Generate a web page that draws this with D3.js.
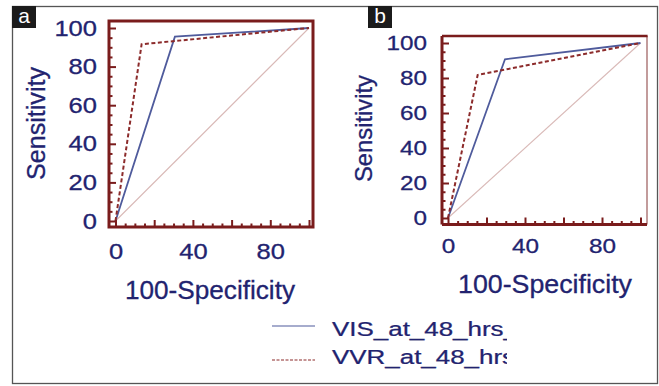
<!DOCTYPE html>
<html>
<head>
<meta charset="utf-8">
<script src="https://cdn.jsdelivr.net/npm/d3@7"></script>
<style>
  html, body { margin: 0; padding: 0; background: #fff; }
  svg { display: block; }
  text { font-family: "Liberation Sans", Arial, sans-serif; }
</style>
</head>
<body>
<svg id="chart" width="659" height="386"></svg>
<script>
// ---- data ----
const panelLabels = ["a", "b"];
const xTicks = [0, 40, 80];
const yTicks = [0, 20, 40, 60, 80, 100];
const seriesNames = ["VIS_at_48_hrs_", "VVR_at_48_hrs"];
const visA = [[0, 0], [30.7, 95.5], [100, 100]];
const vvrA = [[0, 0], [13.5, 91.6], [100, 100]];
const visB = [[0, 0], [29.6, 90.7], [100, 100]];
const vvrB = [[0, 0], [15.4, 81.7], [100, 100]];
const diagonal = [[0, 0], [100, 100]];

const navy = "#22236f";
const frameCol = "#7a1c1c";
const blue = "#4f5b9c";
const red = "#8c2b2b";
const diagCol = "#d9b9b7";

const svg = d3.select("#chart");

// outer figure border
svg.append("rect").attr("x", 12.5).attr("y", 6.5).attr("width", 645).attr("height", 377)
  .attr("fill", "none").attr("stroke", "#555").attr("stroke-width", 1.3);

const panels = [
  { label: "a", box: [12, 6, 24, 22], frame: { l: 109, t: 21, r: 313, b: 227 },
    xr: [115.5, 309], yr: [221, 28], vis: visA, vvr: vvrA,
    yPad: 12, xPad: 16, digitW: 14.2, tickFont: 22,
    xTitle: { x: 125, y: 299, len: 170, size: 26 },
    yTitle: { x: 45, y: 123.5, len: 113, size: 25 }, thinRight: false },
  { label: "b", box: [368, 6, 24, 22], frame: { l: 442, t: 36, r: 647, b: 224.5 },
    xr: [448, 640.5], yr: [218, 43], vis: visB, vvr: vvrB,
    yPad: 15, xPad: 13.5, digitW: 13.5, tickFont: 21,
    xTitle: { x: 458, y: 293, len: 174, size: 26 },
    yTitle: { x: 372, y: 128.5, len: 107, size: 24 }, thinRight: true }
];

panels.forEach((p, i) => {
  const g = svg.append("g");
  const x = d3.scaleLinear().domain([0, 100]).range(p.xr);
  const y = d3.scaleLinear().domain([0, 100]).range(p.yr);
  const f = p.frame;

  // panel label box
  g.append("rect").attr("x", p.box[0]).attr("y", p.box[1]).attr("width", p.box[2]).attr("height", p.box[3])
    .attr("fill", "#1b1b1b");
  g.append("text").attr("x", p.box[0] + p.box[2] / 2).attr("y", p.box[1] + 17)
    .attr("text-anchor", "middle").attr("fill", "#fff").attr("font-size", 21)
    .text(panelLabels[i]);

  // curves
  const line = d3.line().x(d => x(d[0])).y(d => y(d[1]));
  g.append("path").datum(diagonal).attr("d", line).attr("fill", "none")
    .attr("stroke", diagCol).attr("stroke-width", 1.1);
  g.append("path").datum(p.vis).attr("d", line).attr("fill", "none")
    .attr("stroke", blue).attr("stroke-width", 1.8);
  g.append("path").datum(p.vvr).attr("d", line).attr("fill", "none")
    .attr("stroke", red).attr("stroke-width", 2).attr("stroke-dasharray", "4,2.5");

  // frame
  if (p.thinRight) {
    g.append("line").attr("x1", f.r).attr("x2", f.r).attr("y1", f.t).attr("y2", f.b)
      .attr("stroke", "#9a5a5a").attr("stroke-width", 1.2);
    g.append("line").attr("x1", f.l).attr("x2", f.r + 0.6).attr("y1", f.t).attr("y2", f.t)
      .attr("stroke", frameCol).attr("stroke-width", 2.6);
    g.append("line").attr("x1", f.l).attr("x2", f.l).attr("y1", f.t).attr("y2", f.b)
      .attr("stroke", frameCol).attr("stroke-width", 3);
    g.append("line").attr("x1", f.l).attr("x2", f.r).attr("y1", f.b).attr("y2", f.b)
      .attr("stroke", frameCol).attr("stroke-width", 3);
  } else {
    g.append("rect").attr("x", f.l).attr("y", f.t).attr("width", f.r - f.l).attr("height", f.b - f.t)
      .attr("fill", "none").attr("stroke", frameCol).attr("stroke-width", 3);
  }

  // inward ticks
  const minor = d3.range(0, 101, 5).filter(v => v % 20 !== 0);
  const major = d3.range(0, 101, 20);
  const tickAxes = [
    [d3.axisRight(y).tickValues(minor).tickSize(3.5), `translate(${f.l},0)`],
    [d3.axisRight(y).tickValues(major).tickSize(7), `translate(${f.l},0)`],
    [d3.axisTop(x).tickValues(minor).tickSize(3.5), `translate(0,${f.b})`],
    [d3.axisTop(x).tickValues(major).tickSize(7), `translate(0,${f.b})`]
  ];
  tickAxes.forEach(([ax, tr]) => {
    const a = g.append("g").attr("transform", tr).call(ax.tickFormat(""));
    a.select(".domain").remove();
    a.selectAll("line").attr("stroke", frameCol).attr("stroke-width", 2);
  });

  // tick labels
  const yl = g.append("g").attr("transform", `translate(${f.l},0)`)
    .call(d3.axisLeft(y).tickValues(yTicks).tickSize(0).tickPadding(p.yPad));
  const xl = g.append("g").attr("transform", `translate(0,${f.b})`)
    .call(d3.axisBottom(x).tickValues(xTicks).tickSize(0).tickPadding(p.xPad));
  [yl, xl].forEach(a => {
    a.select(".domain").remove();
    a.selectAll("text")
      .attr("fill", navy)
      .attr("stroke", navy).attr("stroke-width", 0.3)
      .attr("font-size", p.tickFont)
      .attr("font-family", "'Liberation Sans', Arial, sans-serif")
      .attr("textLength", function () { return this.textContent.length * p.digitW; })
      .attr("lengthAdjust", "spacingAndGlyphs");
  });

  // axis titles
  g.append("text").attr("x", p.xTitle.x).attr("y", p.xTitle.y)
    .attr("fill", navy).attr("stroke", navy).attr("stroke-width", 0.3)
    .attr("font-size", p.xTitle.size)
    .attr("textLength", p.xTitle.len).attr("lengthAdjust", "spacingAndGlyphs")
    .text("100-Specificity");
  g.append("text")
    .attr("transform", `translate(${p.yTitle.x},${p.yTitle.y}) rotate(-90)`)
    .attr("text-anchor", "middle")
    .attr("fill", navy).attr("stroke", navy).attr("stroke-width", 0.3)
    .attr("font-size", p.yTitle.size)
    .attr("textLength", p.yTitle.len).attr("lengthAdjust", "spacingAndGlyphs")
    .text("Sensitivity");
});

// legend (clipped at right like the reference)
const defs = svg.append("defs");
defs.append("clipPath").attr("id", "legclip")
  .append("rect").attr("x", 0).attr("y", 300).attr("width", 507).attr("height", 80);
const leg = svg.append("g").attr("clip-path", "url(#legclip)");
const legRows = [
  { name: seriesNames[0], color: blue, dash: null, ly: 326, ty: 336 },
  { name: seriesNames[1], color: red, dash: "3,1.5", ly: 360, ty: 363.5 }
];
legRows.forEach(r => {
  leg.append("line").attr("x1", 272).attr("x2", 315).attr("y1", r.ly).attr("y2", r.ly)
    .attr("stroke", r.color).attr("stroke-width", 1.2)
    .attr("stroke-dasharray", r.dash);
  leg.append("g").attr("transform", `translate(332,${r.ty}) scale(1.33,1)`)
    .append("text").attr("x", 0).attr("y", 0)
    .attr("fill", navy).attr("stroke", navy).attr("stroke-width", 0.25)
    .attr("font-size", 19.5)
    .text(r.name);
});
</script>
</body>
</html>
